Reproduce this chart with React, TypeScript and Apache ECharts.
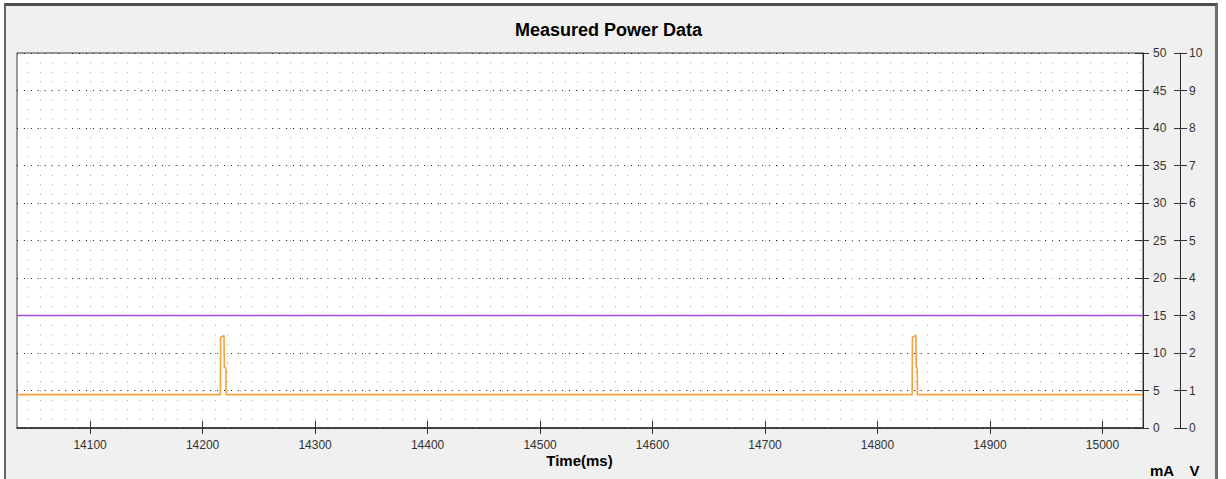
import React, { useEffect, useRef } from "react";
import * as echarts from "echarts";

// ---- data ----
const X_MIN = 14035;
const X_MAX = 15036;
const xTickValues = [14100, 14200, 14300, 14400, 14500, 14600, 14700, 14800, 14900, 15000];
const currentTime = [
  14035, 14215.8, 14216.0, 14219.0, 14219.3, 14220.7, 14220.9,
  14830.8, 14831.0, 14834.0, 14834.4, 14835.3, 14835.5, 15036,
];
const currentMa = [
  4.45, 4.45, 12.1, 12.35, 8.1, 8.0, 4.45,
  4.45, 12.1, 12.35, 8.1, 8.0, 4.45, 4.45,
];
const voltageTime = [14035, 15036];
const voltageV = [3, 3];
const titleText = "Measured Power Data";
const xAxisTitle = "Time(ms)";
const unitCurrent = "mA";
const unitVoltage = "V";

const FONT = '"Liberation Sans", Arial, sans-serif';

export default function App() {
  const ref = useRef<HTMLDivElement>(null);

  useEffect(() => {
    if (!ref.current) return;
    const chart = echarts.init(ref.current, null, { renderer: "svg" });
    const minorDots = { color: "#98a2b3", width: 1, type: [1, 8.375] as any };
    const plain = (v: number) => String(v);
    const option: any = {
      animation: false,
      backgroundColor: "transparent",
      textStyle: { fontFamily: FONT },
      grid: {
        left: 17,
        top: 53,
        right: 83,
        bottom: 51,
        show: true,
        backgroundColor: "#ffffff",
        borderColor: "#3a3a3a",
        borderWidth: 1,
      },
      xAxis: [
        {
          type: "value",
          min: X_MIN,
          max: X_MAX,
          splitNumber: 10,
          position: "bottom",
          axisLine: { show: true, onZero: false, lineStyle: { color: "#2a2a2a", width: 1.5 } },
          axisTick: { show: true, inside: false, length: 6, customValues: xTickValues, lineStyle: { color: "#333" } },
          axisLabel: { show: true, customValues: xTickValues, formatter: plain, margin: 11, color: "#333", fontSize: 12, fontFamily: FONT },
          splitLine: { show: true, lineStyle: minorDots },
          minorTick: { show: false, splitNumber: 9 },
          minorSplitLine: { show: true, lineStyle: minorDots },
        },
        {
          type: "value",
          min: X_MIN,
          max: X_MAX,
          splitNumber: 10,
          position: "bottom",
          axisLine: { show: false, onZero: false },
          axisTick: { show: true, inside: true, length: 7, customValues: xTickValues, lineStyle: { color: "#333" } },
          axisLabel: { show: false },
          splitLine: { show: false },
        },
      ],
      yAxis: [
        {
          type: "value",
          min: 0,
          max: 50,
          interval: 5,
          position: "right",
          offset: 0,
          axisLine: { show: true, onZero: false, lineStyle: { color: "#2a2a2a", width: 1 } },
          axisTick: { show: true, inside: false, length: 6, lineStyle: { color: "#333" } },
          axisLabel: { margin: 10, formatter: plain, color: "#333", fontSize: 12, fontFamily: FONT },
          splitLine: { show: true, lineStyle: { color: "#111", width: 1, type: [1, 5.9] } },
        },
        {
          type: "value",
          min: 0,
          max: 10,
          interval: 1,
          position: "right",
          offset: 37,
          axisLine: { show: true, onZero: false, lineStyle: { color: "#2a2a2a", width: 1 } },
          axisTick: { show: true, inside: false, length: 7, lineStyle: { color: "#333" } },
          axisLabel: { margin: 9, formatter: plain, color: "#333", fontSize: 12, fontFamily: FONT },
          splitLine: { show: false },
        },
        {
          type: "value",
          min: 0,
          max: 50,
          interval: 5,
          position: "right",
          offset: 0,
          axisLine: { show: false, onZero: false },
          axisTick: { show: true, inside: true, length: 8, lineStyle: { color: "#333" } },
          axisLabel: { show: false },
          splitLine: { show: false },
        },
        {
          type: "value",
          min: 0,
          max: 10,
          interval: 1,
          position: "right",
          offset: 37,
          axisLine: { show: false, onZero: false },
          axisTick: { show: true, inside: true, length: 6, lineStyle: { color: "#333" } },
          axisLabel: { show: false },
          splitLine: { show: false },
        },
      ],
      series: [
        {
          type: "line",
          name: "Voltage",
          xAxisIndex: 0,
          yAxisIndex: 1,
          data: voltageTime.map((t, i) => [t, voltageV[i]]),
          symbol: "none",
          showSymbol: false,
          lineStyle: { color: "#a24be0", width: 1.6 },
          itemStyle: { color: "#a24be0" },
          z: 3,
        },
        {
          type: "line",
          name: "Current",
          xAxisIndex: 0,
          yAxisIndex: 0,
          data: currentTime.map((t, i) => [t, currentMa[i]]),
          symbol: "none",
          showSymbol: false,
          lineStyle: { color: "#f8a03a", width: 1.6 },
          itemStyle: { color: "#f8a03a" },
          z: 4,
        },
      ],
      graphic: [
        {
          type: "text",
          x: 608.5,
          y: 29.5,
          style: { text: titleText, fill: "#000", font: `bold 18px ${FONT}`, align: "center", verticalAlign: "middle" },
        },
        {
          type: "text",
          x: 579.5,
          y: 460,
          style: { text: xAxisTitle, fill: "#000", font: `bold 15px ${FONT}`, align: "center", verticalAlign: "middle" },
        },
        {
          type: "text",
          x: 1162,
          y: 470,
          style: { text: unitCurrent, fill: "#000", font: `bold 15px ${FONT}`, align: "center", verticalAlign: "middle" },
        },
        {
          type: "text",
          x: 1194.5,
          y: 470,
          style: { text: unitVoltage, fill: "#000", font: `bold 15px ${FONT}`, align: "center", verticalAlign: "middle" },
        },
      ],
    };
    chart.setOption(option);
    return () => chart.dispose();
  }, []);

  return (
    <div style={{ position: "fixed", left: 0, top: 0, width: 1226, height: 479, overflow: "hidden", background: "#ffffff" }}>
      <div
        style={{
          position: "absolute",
          left: 4,
          top: 3,
          width: 1214,
          height: 520,
          boxSizing: "border-box",
          borderTop: "3px solid #4e4e4e",
          borderLeft: "2px solid #646464",
          borderRight: "3px solid #6e6e6e",
          background: "#f0f0f0",
        }}
      />
      <div ref={ref} style={{ position: "absolute", left: 0, top: 0, width: 1226, height: 479 }} />
    </div>
  );
}
